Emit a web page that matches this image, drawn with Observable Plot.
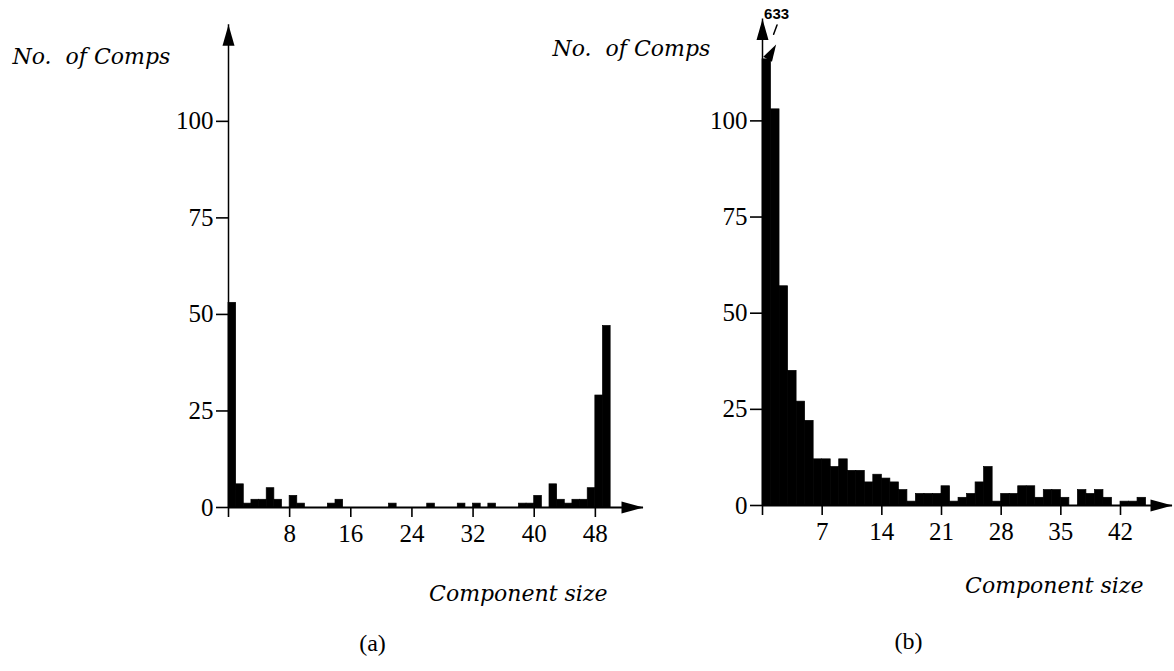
<!DOCTYPE html>
<html><head><meta charset="utf-8">
<script src="https://cdn.jsdelivr.net/npm/d3@7"></script>
<script src="https://cdn.jsdelivr.net/npm/@observablehq/plot@0.6"></script>
<style>
html,body{margin:0;padding:0;background:#fff;}
#wrap{position:relative;width:1174px;height:671px;overflow:hidden;background:#fff;}
</style></head><body><div id="wrap"></div>
<script>
// ---- data ----
const sizesA = [1,2,3,4,5,6,7,8,9,10,11,12,13,14,15,16,17,18,19,20,21,22,23,24,25,26,27,28,29,30,31,32,33,34,35,36,37,38,39,40,41,42,43,44,45,46,47,48,49,50];
const countsA = [53,6,1,2,2,5,2,0,3,1, 0,0,0,1,2,0,0,0,0,0, 0,1,0,0,0,0,1,0,0,0, 1,0,1,0,1,0,0,0,1,1, 3,0,6,2,1,2,2,5,29,47];
const sizesB = [1,2,3,4,5,6,7,8,9,10,11,12,13,14,15,16,17,18,19,20,21,22,23,24,25,26,27,28,29,30,31,32,33,34,35,36,37,38,39,40,41,42,43,44,45];
const countsB = [633,103,57,35,27,22,12,12,10,12, 9,9,6,8,7,6,4,1,3,3, 3,5,1,2,3,6,10,1,3,3, 5,5,2,4,4,2,0,4,3,4, 2,0,1,1,2];
const xTicksA = [0,8,16,24,32,40,48];
const xTicksB = [0,7,14,21,28,35,42];
const yTicks = [0,25,50,75,100];
const yLabel = "No.\u00A0 of Comps";
const xLabel = "Component size";
const captionA = "(a)";
const captionB = "(b)";
const clipB = 116; // displayed height of the broken first bar in (b)

const tableA = sizesA.map((s,i)=>({size:s,count:countsA[i]}));
const tableB = sizesB.map((s,i)=>({size:s,count:countsB[i]}));

const italic = {fontFamily:"'DejaVu Serif', serif", fontStyle:"italic", fontSize:22};

function panel(o){
  const marks = [
    Plot.rectY(o.data.filter(d=>d.count>0), {x1: d=>d.size-1, x2: d=>d.size, y1: 0, y2: d=>Math.min(d.count, o.clip), fill:"black", stroke:"black", strokeWidth:0.7, inset:0}),
    Plot.ruleY([0], {x1: 0, x2: o.xMax, strokeWidth: 2}),
    Plot.ruleX([0], {y1: 0, y2: o.yMax, strokeWidth: 1.5}),
    Plot.vector([0], {x: o.xMax, y: 0, rotate: 90, length: 22, r: 6, shape: "spike", anchor: "end", fill: "black", stroke: "none"}),
    Plot.vector([0], {x: 0, y: o.yMax, rotate: 0, length: 21, r: 6, shape: "spike", anchor: "end", fill: "black", stroke: "none"}),
    Plot.axisX({ticks: o.xTicks, tickSize: 10, tickPadding: 7, tickFormat: d => d===0 ? "" : String(d), label: null, strokeWidth: 1.6}),
    Plot.axisY({ticks: yTicks, tickSize: 12, tickPadding: 3, label: null, strokeWidth: 1.6}),
    Plot.text([yLabel], {text: d=>d, frameAnchor: "top-left", textAnchor: "start", dx: o.yLabDx, dy: o.yLabDy, ...italic}),
    Plot.text([xLabel], {text: d=>d, frameAnchor: "bottom-right", textAnchor: "end", dx: o.xLabDx, dy: o.xLabDy, ...italic}),
    Plot.text([o.caption], {text: d=>d, frameAnchor: "bottom-left", textAnchor: "middle", dx: o.capDx, dy: o.capDy, fontFamily:"'Liberation Serif', serif", fontSize: 24}),
    ...(o.extra || [])
  ];
  return Plot.plot({
    width: o.width, height: 671,
    marginLeft: o.marginLeft, marginRight: o.marginRight, marginTop: 5, marginBottom: o.marginBottom,
    x: {domain: [0, o.xDomainMax]},
    y: {domain: [0, 130]},
    style: {fontFamily: "'Liberation Serif', serif", fontSize: "25px", background: "transparent", color: "black", position: "absolute", top: "0px", left: o.left + "px", overflow: "visible", maxWidth: "none"},
    marks
  });
}

const firstB = tableB.slice(0,1);
const extraB = [
  Plot.vector(firstB, {x: d=>d.size-0.4, y: clipB, rotate: 30, length: 17, r: 5, shape: "spike", anchor: "start", fill: "black", stroke: "none"}),
  Plot.vector(firstB, {x: d=>d.size-0.4, y: clipB, dx: 6, dy: -25, rotate: 20, length: 10, r: 0, anchor: "start", stroke: "black", strokeWidth: 1.5}),
  Plot.text(firstB, {x: d=>d.size-0.4, y: clipB, text: d=>String(d.count), dx: 9, dy: -45, fontFamily: "'Liberation Sans', sans-serif", fontWeight: "bold", fontSize: 15})
];

const wrap = document.getElementById("wrap");
wrap.appendChild(panel({data: tableA, clip: Infinity, xTicks: xTicksA, xMax: 54.3, yMax: 125, xDomainMax: 56,
  width: 660, left: 0, marginLeft: 228, marginRight: 4, marginBottom: 164,
  yLabDx: -216, yLabDy: 43, xLabDx: -49, xLabDy: 93, caption: captionA, capDx: 144, capDy: 143}));
wrap.appendChild(panel({data: tableB, clip: clipB, xTicks: xTicksB, xMax: 48.1, yMax: 126.5, xDomainMax: 48.1,
  width: 634, left: 540, marginLeft: 222, marginRight: 2, marginBottom: 166,
  yLabDx: -210, yLabDy: 35, xLabDx: -29, xLabDy: 87, caption: captionB, capDx: 146, capDy: 143, extra: extraB}));
</script>
</body></html>
